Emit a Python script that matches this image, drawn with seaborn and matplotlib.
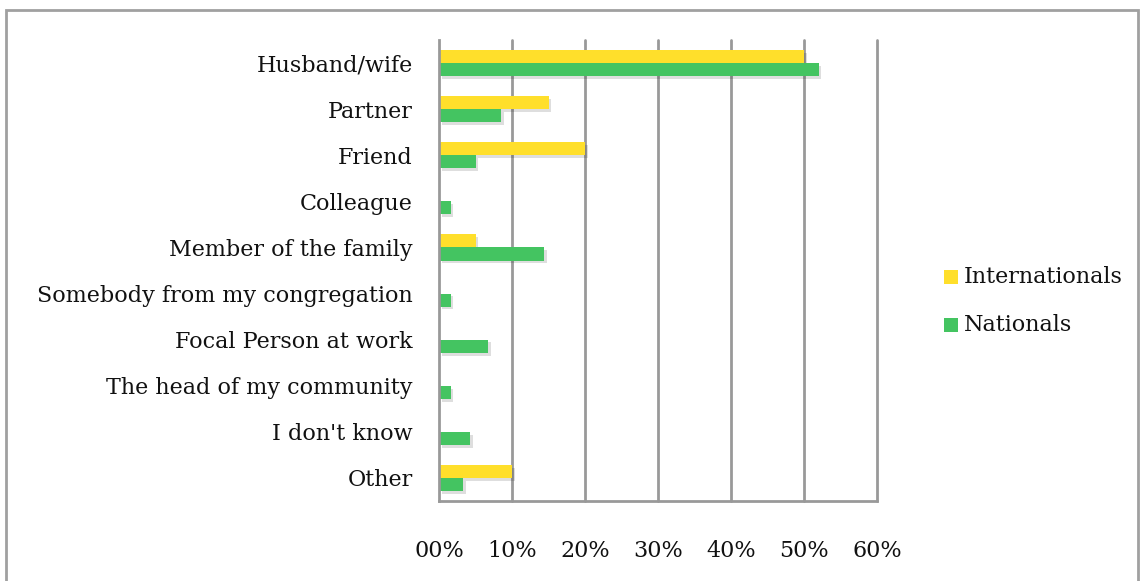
import matplotlib
matplotlib.use("Agg")
import matplotlib.pyplot as plt
import matplotlib.patheffects as pe
from matplotlib.patches import Rectangle
from matplotlib.ticker import FixedLocator
import seaborn as sns
import pandas as pd

categories = [
    "Husband/wife",
    "Partner",
    "Friend",
    "Colleague",
    "Member of the family",
    "Somebody from my congregation",
    "Focal Person at work",
    "The head of my community",
    "I don't know",
    "Other",
]
internationals = [50, 15, 20, 0, 5, 0, 0, 0, 0, 10]
nationals = [52, 8.5, 5, 1.6, 14.4, 1.6, 6.7, 1.6, 4.25, 3.3]
series_names = ["Internationals", "Nationals"]
x_ticks = [0, 10, 20, 30, 40, 50, 60]
x_tick_labels = ["00%", "10%", "20%", "30%", "40%", "50%", "60%"]

df = pd.DataFrame({
    "Category": categories * 2,
    "Share": internationals + nationals,
    "Group": [series_names[0]] * len(categories) + [series_names[1]] * len(categories),
})

sns.set_style("white")
plt.rcParams["font.family"] = ["DejaVu Serif"]
plt.rcParams["text.color"] = "#111111"
plt.rcParams["xtick.labelcolor"] = "#111111"
plt.rcParams["ytick.labelcolor"] = "#111111"
FS = 16

W, H = 1140, 581
fig = plt.figure(figsize=(W / 100, H / 100), dpi=100)
ax = fig.add_axes([439 / W, 1 - 501 / H, (877 - 439) / W, (501 - 40) / H])

palette = {"Internationals": "#FFDF2B", "Nationals": "#44C461"}
sns.barplot(data=df, y="Category", x="Share", hue="Group", order=categories,
            hue_order=series_names, palette=palette, orient="h", width=0.57,
            ax=ax, saturation=1, legend=False)

shadow = [pe.SimplePatchShadow(offset=(2, -2), shadow_rgbFace="#000000", alpha=0.13),
          pe.Normal()]
for bar in ax.patches:
    bar.set_edgecolor("none")
    bar.set_path_effects(shadow)

grid_c = "#999999"
ax.set_xlim(0, 60)
ax.set_ylim(len(categories) - 0.5, -0.5)
ax.set_xticks(x_ticks)
ax.set_xticklabels(x_tick_labels)
for x in x_ticks[1:]:
    ax.axvline(x, color=grid_c, lw=2, zorder=0, clip_on=False)

ax.yaxis.set_minor_locator(FixedLocator([i - 0.5 for i in range(len(categories) + 1)]))
ax.tick_params(axis="y", which="minor", length=6, width=2, color=grid_c, direction="out")
ax.tick_params(axis="y", which="major", length=0, pad=19, labelsize=FS)
ax.tick_params(axis="x", which="major", length=7, width=2, color=grid_c,
               direction="out", pad=21, labelsize=FS)
ax.set_xlabel("")
ax.set_ylabel("")
for s in ["top", "right"]:
    ax.spines[s].set_visible(False)
for s in ["left", "bottom"]:
    ax.spines[s].set_color(grid_c)
    ax.spines[s].set_linewidth(2)

# legend
for name, y in zip(series_names, [277, 325]):
    fig.patches.append(Rectangle((944 / W, 1 - (y + 7) / H), 14 / W, 14 / H,
                                 transform=fig.transFigure, facecolor=palette[name],
                                 edgecolor="none"))
    fig.text(964 / W, 1 - y / H, name, fontsize=FS, va="center", ha="left")

# outer frame
fig.patches.append(Rectangle((6 / W, -0.01), (1138 - 6) / W, 1 - 10 / H + 0.01,
                             transform=fig.transFigure, fill=False,
                             edgecolor="#a0a0a0", lw=2))

fig.savefig("out.png", dpi=100)
